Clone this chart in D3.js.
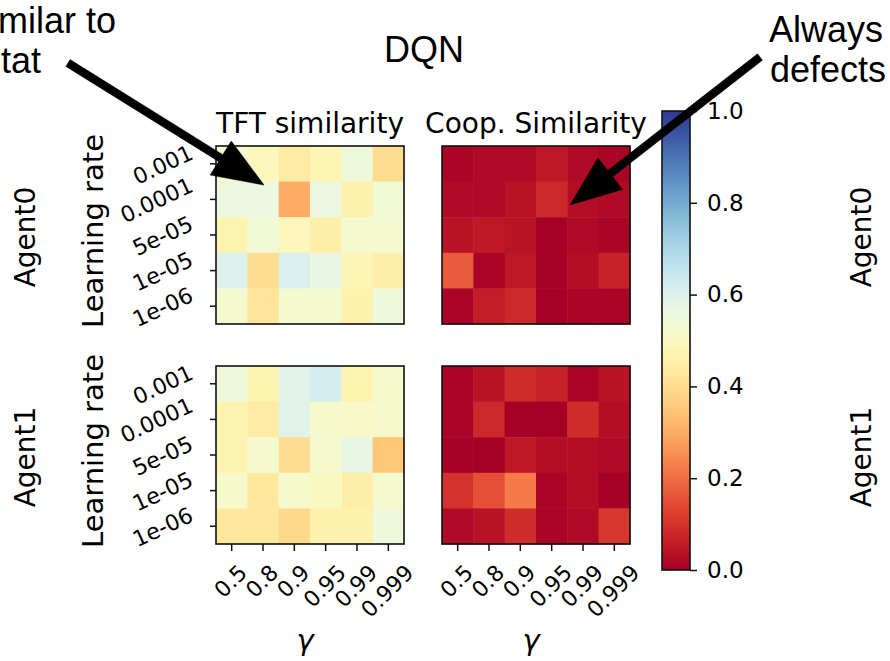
<!DOCTYPE html>
<html>
<head>
<meta charset="utf-8">
<script src="https://cdn.jsdelivr.net/npm/d3@7"></script>
<style>
  html, body { margin: 0; padding: 0; background: #fff; }
  svg { display: block; }
  text { fill: #000; }
</style>
</head>
<body>
<div id="chart"></div>
<script>
// Axis categories
const gammas = ["0.5", "0.8", "0.9", "0.95", "0.99", "0.999"];
const learningRates = ["0.001", "0.0001", "5e-05", "1e-05", "1e-06"];
const colorTicks = [0, 0.2, 0.4, 0.6, 0.8, 1.0];

// Rows follow learningRates, columns follow gammas
const tftAgent0 = [
  [0.53, 0.49, 0.44, 0.48, 0.55, 0.40],
  [0.56, 0.56, 0.30, 0.56, 0.46, 0.54],
  [0.47, 0.54, 0.49, 0.45, 0.53, 0.53],
  [0.60, 0.40, 0.61, 0.57, 0.48, 0.45],
  [0.53, 0.42, 0.53, 0.53, 0.46, 0.55]
];
const coopAgent0 = [
  [0.01, 0.02, 0.02, 0.05, 0.02, 0.01],
  [0.02, 0.02, 0.04, 0.08, 0.03, 0.02],
  [0.04, 0.05, 0.04, 0.00, 0.02, 0.01],
  [0.17, 0.01, 0.05, 0.00, 0.03, 0.07],
  [0.01, 0.06, 0.08, 0.00, 0.01, 0.01]
];
const tftAgent1 = [
  [0.55, 0.47, 0.59, 0.62, 0.47, 0.52],
  [0.47, 0.44, 0.59, 0.52, 0.51, 0.52],
  [0.47, 0.53, 0.40, 0.53, 0.57, 0.35],
  [0.52, 0.43, 0.52, 0.50, 0.45, 0.53],
  [0.43, 0.43, 0.39, 0.46, 0.46, 0.55]
];
const coopAgent1 = [
  [0.01, 0.04, 0.09, 0.07, 0.01, 0.04],
  [0.01, 0.08, 0.00, 0.00, 0.09, 0.03],
  [0.00, 0.00, 0.05, 0.03, 0.03, 0.02],
  [0.10, 0.15, 0.22, 0.01, 0.03, 0.00],
  [0.02, 0.04, 0.09, 0.01, 0.02, 0.11]
];

const W = 890, H = 661;
const svg = d3.select("#chart").append("svg")
  .attr("width", W).attr("height", H);

const color = d3.scaleSequential(d3.interpolateRdYlBu).domain([0, 1]);
const tickFont = "DejaVu Sans, sans-serif";

// Panel layout
const colX = [216, 442];
const rowY = [146, 366];
const pw = 188, ph = 178;

const panels = [
  { data: tftAgent0, col: 0, row: 0, title: "TFT similarity" },
  { data: coopAgent0, col: 1, row: 0, title: "Coop. Similarity" },
  { data: tftAgent1, col: 0, row: 1 },
  { data: coopAgent1, col: 1, row: 1 }
];

panels.forEach(p => {
  const x0 = colX[p.col], y0 = rowY[p.row];
  const x = d3.scaleBand().domain(gammas).range([x0, x0 + pw]);
  const y = d3.scaleBand().domain(learningRates).range([y0, y0 + ph]);
  const g = svg.append("g");

  const cells = [];
  p.data.forEach((r, i) => r.forEach((v, j) => cells.push({ lr: learningRates[i], g: gammas[j], v })));

  g.selectAll("rect.cell")
    .data(cells)
    .join("rect")
    .attr("class", "cell")
    .attr("x", d => x(d.g))
    .attr("y", d => y(d.lr))
    .attr("width", x.bandwidth() + 0.5)
    .attr("height", y.bandwidth() + 0.5)
    .attr("fill", d => color(d.v));

  g.append("rect")
    .attr("x", x0).attr("y", y0)
    .attr("width", pw).attr("height", ph)
    .attr("fill", "none")
    .attr("stroke", "#111")
    .attr("stroke-width", 1.6);

  // Left axis only on left column
  if (p.col === 0) {
    const ay = g.append("g")
      .attr("transform", `translate(${x0},0)`)
      .call(d3.axisLeft(y).tickSize(6).tickSizeOuter(0));
    ay.select(".domain").remove();
    ay.selectAll("line").attr("stroke", "#111").attr("stroke-width", 1.5);
    ay.selectAll("text").remove();
    const deg = 25;
    const rot = deg * Math.PI / 180;
    const fs = 22;
    learningRates.forEach(lr => {
      const t = g.append("text")
        .attr("font-family", tickFont)
        .attr("font-size", fs)
        .attr("text-anchor", "middle")
        .attr("dominant-baseline", "central")
        .text(lr);
      const L = t.node().getComputedTextLength();
      const h = 0.75 * fs;
      const bw = L * Math.cos(rot) + h * Math.sin(rot);
      const cx = x0 - 21 - bw / 2;
      const cy = y(lr) + y.bandwidth() / 2 + 1;
      t.attr("transform", `translate(${cx},${cy}) rotate(${-deg})`);
    });
  }

  // Bottom axis only on bottom row
  if (p.row === 1) {
    const ax = g.append("g")
      .attr("transform", `translate(0,${y0 + ph})`)
      .call(d3.axisBottom(x).tickSize(7).tickSizeOuter(0));
    ax.select(".domain").remove();
    ax.selectAll("line").attr("stroke", "#111").attr("stroke-width", 1.5);
    ax.selectAll("text").remove();
    const fs = 22;
    gammas.forEach(gm => {
      const t = g.append("text")
        .attr("font-family", tickFont)
        .attr("font-size", fs)
        .attr("text-anchor", "middle")
        .attr("dominant-baseline", "central")
        .text(gm);
      const L = t.node().getComputedTextLength();
      const h = 0.75 * fs;
      const bh = (L + h) * Math.SQRT1_2;
      const cx = x(gm) + x.bandwidth() / 2 - 1;
      const cy = y0 + ph + 19 + bh / 2;
      t.attr("transform", `translate(${cx},${cy}) rotate(-45)`);
    });

    svg.append("text")
      .attr("x", x0 + pw / 2 - 5)
      .attr("y", 650)
      .attr("text-anchor", "middle")
      .attr("font-family", tickFont)
      .attr("font-style", "italic")
      .attr("font-size", 29)
      .text("γ");
  }

  if (p.title) {
    svg.append("text")
      .attr("x", x0 + pw / 2)
      .attr("y", 133)
      .attr("text-anchor", "middle")
      .attr("font-family", tickFont)
      .attr("font-size", 28)
      .text(p.title);
  }
});

// Row labels
const rowLabels = ["Agent0", "Agent1"];
rowLabels.forEach((lab, i) => {
  const cy = rowY[i] + ph / 2;
  svg.append("text")
    .attr("transform", `translate(25,${cy + 2}) rotate(-90)`)
    .attr("text-anchor", "middle")
    .attr("dominant-baseline", "central")
    .attr("font-family", tickFont)
    .attr("font-size", 28)
    .text(lab);
  svg.append("text")
    .attr("transform", `translate(93,${cy - 4}) rotate(-90)`)
    .attr("text-anchor", "middle")
    .attr("dominant-baseline", "central")
    .attr("font-family", tickFont)
    .attr("font-size", 29)
    .text("Learning rate");
  svg.append("text")
    .attr("transform", `translate(861,${cy + 2}) rotate(-90)`)
    .attr("text-anchor", "middle")
    .attr("dominant-baseline", "central")
    .attr("font-family", tickFont)
    .attr("font-size", 28)
    .text(lab);
});

// Colorbar
const cbX = 662, cbW = 28, cbTop = 111, cbBot = 570;
const cbScale = d3.scaleLinear().domain([0, 1]).range([cbBot, cbTop]);
const defs = svg.append("defs");
const grad = defs.append("linearGradient")
  .attr("id", "cbgrad")
  .attr("x1", 0).attr("y1", 1).attr("x2", 0).attr("y2", 0);
d3.range(0, 1.0001, 0.02).forEach(t => {
  grad.append("stop").attr("offset", t).attr("stop-color", color(t));
});
svg.append("rect")
  .attr("x", cbX).attr("y", cbTop)
  .attr("width", cbW).attr("height", cbBot - cbTop)
  .attr("fill", "url(#cbgrad)")
  .attr("stroke", "#111")
  .attr("stroke-width", 1.6);
const cbAxis = svg.append("g")
  .attr("transform", `translate(${cbX + cbW},0)`)
  .call(d3.axisRight(cbScale).tickValues(colorTicks).tickFormat(d3.format(".1f")).tickSize(7).tickPadding(10));
cbAxis.select(".domain").remove();
cbAxis.selectAll("line").attr("stroke", "#111").attr("stroke-width", 1.5);
cbAxis.selectAll("text")
  .attr("font-family", tickFont)
  .attr("font-size", 23)
  .attr("fill", "#000");

// Title
svg.append("text")
  .attr("x", 424).attr("y", 62)
  .attr("text-anchor", "middle")
  .attr("font-family", "Liberation Sans, Arial, sans-serif")
  .attr("font-size", 36)
  .text("DQN");

// Annotations (left one runs off the page edge, as in the source figure)
const annFont = "Liberation Sans, Arial, sans-serif";
const annotations = [
  { lines: ["Similar to", "tit-for-tat"], anchor: "end", xs: [116, 41], y: 33, from: [68, 63], to: [264, 185] },
  { lines: ["Always", "defects"], anchor: "middle", xs: [826, 828], y: 42, from: [760, 57], to: [570, 205] }
];

function arrowPath(s, t, w, hl, hw) {
  const dx = t[0] - s[0], dy = t[1] - s[1];
  const len = Math.hypot(dx, dy);
  const ux = dx / len, uy = dy / len;
  const nx = -uy, ny = ux;
  const bx = t[0] - ux * hl, by = t[1] - uy * hl;
  const pts = [
    [s[0] + nx * w / 2, s[1] + ny * w / 2],
    [bx + nx * w / 2, by + ny * w / 2],
    [bx + nx * hw / 2, by + ny * hw / 2],
    t,
    [bx - nx * hw / 2, by - ny * hw / 2],
    [bx - nx * w / 2, by - ny * w / 2],
    [s[0] - nx * w / 2, s[1] - ny * w / 2]
  ];
  return d3.line()(pts) + "Z";
}

annotations.forEach(a => {
  a.lines.forEach((ln, i) => {
    svg.append("text")
      .attr("x", a.xs[i])
      .attr("y", a.y + i * 40)
      .attr("text-anchor", a.anchor)
      .attr("font-family", annFont)
      .attr("font-size", 36)
      .text(ln);
  });
  svg.append("path")
    .attr("d", arrowPath(a.from, a.to, 8, 51, 40))
    .attr("fill", "#000")
    .attr("stroke", "#000")
    .attr("stroke-width", 0.5);
});
</script>
</body>
</html>
